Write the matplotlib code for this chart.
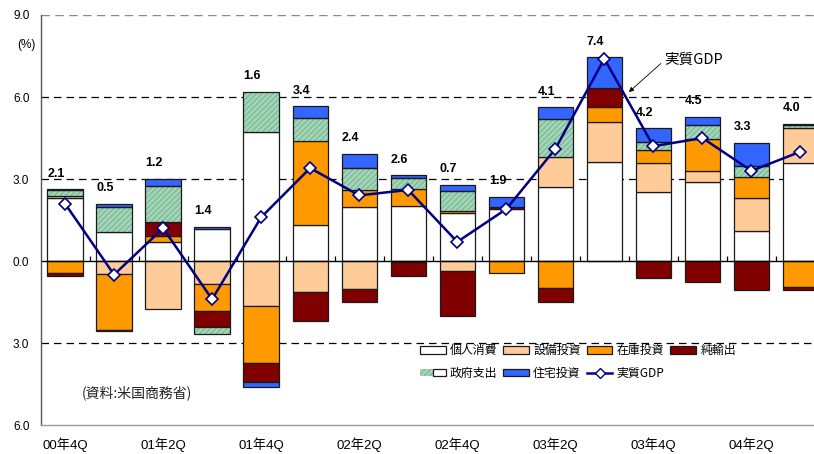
import numpy as np
import matplotlib
matplotlib.use("Agg")
import matplotlib.pyplot as plt
from matplotlib.patches import Patch
from matplotlib.lines import Line2D
from matplotlib.legend_handler import HandlerTuple

plt.rcParams['font.family'] = ['Liberation Sans', 'Noto Sans CJK JP', 'DejaVu Sans']

# ---------------- data ----------------
quarters = ['00Q4', '01Q1', '01Q2', '01Q3', '01Q4', '02Q1', '02Q2', '02Q3',
            '02Q4', '03Q1', '03Q2', '03Q3', '03Q4', '04Q1', '04Q2', '04Q3']
tick_labels = ['00年4Q', '', '01年2Q', '', '01年4Q', '', '02年2Q', '',
               '02年4Q', '', '03年2Q', '', '03年4Q', '', '04年2Q', '']

series_names = ['個人消費', '設備投資', '在庫投資', '純輸出', '政府支出', '住宅投資']
consumption = [2.30, 1.07, 0.70, 1.18, 4.73, 1.32, 1.99, 2.02, 1.75, 1.90, 2.72, 3.61, 2.54, 2.90, 1.11, 3.57]
equipment   = [0.08, -0.49, -1.74, -0.84, -1.65, -1.12, -1.04, -0.05, -0.35, 0.0, 1.10, 1.49, 1.03, 0.40, 1.21, 1.28]
inventory   = [-0.43, -2.03, 0.22, -0.99, -2.09, 3.07, 0.61, 0.60, 0.09, -0.45, -1.00, 0.53, 0.49, 1.18, 0.77, -0.96]
net_exports = [-0.12, -0.04, 0.49, -0.57, -0.67, -1.08, -0.47, -0.50, -1.66, 0.08, -0.49, 0.70, -0.63, -0.76, -1.06, -0.10]
government  = [0.22, 0.90, 1.32, -0.28, 1.46, 0.84, 0.80, 0.40, 0.73, 0.0, 1.37, 0.0, 0.28, 0.49, 0.40, 0.12]
housing     = [0.03, 0.12, 0.27, 0.07, -0.21, 0.43, 0.52, 0.12, 0.22, 0.37, 0.43, 1.12, 0.51, 0.30, 0.83, 0.06]
real_gdp    = [2.1, -0.5, 1.2, -1.4, 1.6, 3.4, 2.4, 2.6, 0.7, 1.9, 4.1, 7.4, 4.2, 4.5, 3.3, 4.0]

colors = ['#FFFFFF', '#FFCC99', '#FF9900', '#800000', '#A6D6BA', '#3366FF']
hatch_color = '#7DBB96'
edge = '#1a1a1a'

# ---------------- figure ----------------
fig = plt.figure(figsize=(8.14, 4.54), dpi=100)
ax = fig.add_axes([40.5 / 814, 29 / 454, 784.5 / 814, 410 / 454])
n = len(quarters)
x = np.arange(n)
width = 0.72

ax.set_xlim(-0.5, n - 0.5)
ax.set_ylim(-6, 9)

# grid lines
for yv in [3, 6, -3]:
    ax.axhline(yv, color='black', lw=0.9, ls=(0, (6, 4)), zorder=1)
ax.axhline(9, color='#888888', lw=1.0, ls=(0, (6, 4)), zorder=1)

# stacked bars
all_series = [consumption, equipment, inventory, net_exports, government, housing]
pos_base = np.zeros(n)
neg_base = np.zeros(n)
for name, vals, col in zip(series_names, all_series, colors):
    v = np.array(vals, dtype=float)
    bottoms = np.where(v >= 0, pos_base, neg_base)
    idx = v != 0
    if name == '政府支出':
        ax.bar(x[idx], v[idx], width, bottom=bottoms[idx], color=col,
               edgecolor=hatch_color, hatch='//////', linewidth=0, zorder=2)
        ax.bar(x[idx], v[idx], width, bottom=bottoms[idx], fill=False,
               edgecolor=edge, linewidth=0.9, zorder=2.1)
    else:
        ax.bar(x[idx], v[idx], width, bottom=bottoms[idx], color=col,
               edgecolor=edge, linewidth=0.9, zorder=2)
    pos_base = pos_base + np.where(v > 0, v, 0)
    neg_base = neg_base + np.where(v < 0, v, 0)

# zero line & small boundary ticks
ax.axhline(0, color='black', lw=1.0, zorder=2.5)
ax.vlines(x[:-1] + 0.5, 0, 0.17, color='black', lw=0.9, zorder=2.5)

# GDP line
ax.plot(x, real_gdp, color='#000080', lw=1.8, marker='D', markersize=6,
        markerfacecolor='white', markeredgecolor='#000080', markeredgewidth=1.2,
        zorder=4)

# value labels above positive stacks
for i in range(n):
    ax.annotate(f"{abs(real_gdp[i]):.1f}", xy=(x[i] - 0.18, pos_base[i]),
                xytext=(0, 11.2), textcoords='offset points',
                ha='center', va='center', fontsize=9, fontweight='bold',
                zorder=5)

# axes styling
for s in ['top', 'right']:
    ax.spines[s].set_visible(False)
ax.spines['left'].set_color('#555555')
ax.spines['left'].set_linewidth(1.0)
ax.spines['bottom'].set_color('#999999')
ax.spines['bottom'].set_linewidth(1.0)

yt = [-6, -3, 0, 3, 6, 9]
ax.set_yticks(yt)
ax.set_yticklabels([f"{abs(v):.1f}" for v in yt], fontsize=8.5)
ax.tick_params(axis='y', length=0, pad=8)
ax.set_xticks(x)
ax.set_xticklabels(tick_labels, fontsize=9.5)
ax.tick_params(axis='x', length=0, pad=9)

fig.text(17 / 814, 1 - 45 / 454, '(%)', fontsize=8.5, va='center', ha='left')
fig.text(82 / 814, 1 - 393 / 454, '(資料:米国商務省)', fontsize=10,
         va='center', ha='left', color='#222222',
         family=['Noto Sans CJK JP'])

# annotation for GDP line
ax.annotate('実質GDP', xy=(11.5, 6.18), xytext=(12.23, 7.35),
            fontsize=10.5, ha='left', va='center',
            family=['Noto Sans CJK JP'],
            arrowprops=dict(arrowstyle='-|>', color='black', lw=0.6,
                            mutation_scale=7, shrinkA=1, shrinkB=0,
                            relpos=(0, 0.5)))

# legend
handles = {}
for name, col in zip(series_names, colors):
    if name == '政府支出':
        handles[name] = (Patch(facecolor=col, edgecolor=hatch_color, hatch='//////', linewidth=0),
                         Patch(fill=False, edgecolor=edge, linewidth=0.9))
    else:
        handles[name] = Patch(facecolor=col, edgecolor=edge, linewidth=0.9)
handles['実質GDP'] = Line2D([], [], color='#000080', lw=1.8, marker='D', markersize=5.5,
                           markerfacecolor='white', markeredgecolor='#000080')
order = ['個人消費', '政府支出', '設備投資', '住宅投資', '在庫投資', '実質GDP', '純輸出']
fig.legend([handles[k] for k in order], order, loc='upper left',
           bbox_to_anchor=(420 / 814, 1 - 344 / 454), ncol=4, frameon=False,
           prop={'family': 'Noto Sans CJK JP', 'size': 8.6},
           handlelength=2.15, handleheight=0.6, handletextpad=0.35,
           columnspacing=0.5, labelspacing=0.8, borderpad=0, borderaxespad=0,
           handler_map={tuple: HandlerTuple(ndivide=None, pad=0)})

fig.savefig('out.png', dpi=100)
